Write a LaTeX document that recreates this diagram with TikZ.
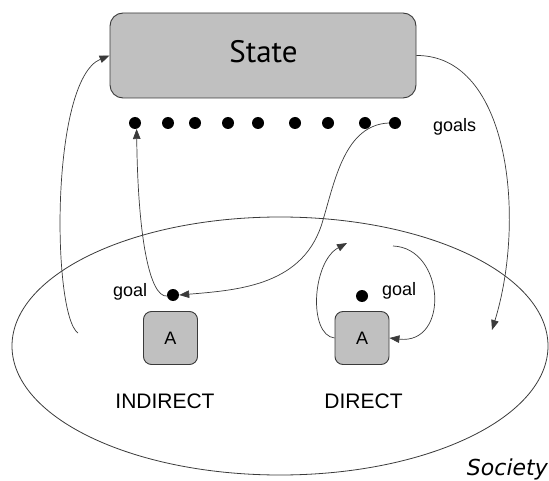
\documentclass[tikz,border=0pt]{standalone}
\usepackage{fontspec}
\setmainfont{Liberation Sans}
\newfontfamily\statefont{PT Sans}
\newfontfamily\handfont{DejaVu Sans}
\usetikzlibrary{arrows.meta}
\definecolor{boxgray}{HTML}{C0C0C0}
\definecolor{linegray}{HTML}{3A3A3A}
\tikzset{
  statebox/.style={draw=linegray, line width=0.9pt, fill=boxgray, rounded corners=13pt,
    minimum width=306pt, minimum height=85pt, inner sep=0pt},
  agentbox/.style={draw=linegray, line width=0.9pt, fill=boxgray, rounded corners=8pt,
    minimum width=54pt, minimum height=53pt, inner sep=0pt, font=\fontsize{18}{20}\selectfont},
  dot/.style={circle, fill=black, inner sep=0pt, minimum size=12pt},
  lbl/.style={inner sep=0pt, font=\fontsize{18}{20}\selectfont},
  biglbl/.style={inner sep=0pt, font=\fontsize{21}{24}\selectfont},
  conn/.style={draw=linegray, line width=0.7pt, -{Triangle[length=10pt,width=7.5pt]}},
}
\begin{document}
\begin{tikzpicture}[x=1pt, y=-1pt]
\useasboundingbox (0,0) rectangle (549,481);

% society
\draw[linegray, line width=0.8pt] (280,346) ellipse [x radius=268, y radius=129];

% shared state and its goals
\node[statebox] (st) at (263,55.5) {};
\node[inner sep=0pt, font=\statefont\fontsize{31}{34}\selectfont] (stl) at (263.5,51.5) {State};
\foreach \x [count=\i] in {135,168,195,228,258,295,328,365,395}
  \node[dot] (g\i) at (\x,123) {};
\node[lbl, anchor=base west] (gl) at (433,132) {goals};

% agents
\node[agentbox] (al) at (170.5,338) {A};
\node[agentbox] (ar) at (362,338) {A};
\node[dot] (ld) at (173,295) {};
\node[dot] (rd) at (362,296) {};
\node[lbl, anchor=base west] (lgl) at (113,296) {goal};
\node[lbl, anchor=base west] (rgl) at (382,295) {goal};
\node[biglbl, anchor=base] (ind) at (165,408) {INDIRECT};
\node[biglbl, anchor=base] (dir) at (363.5,408) {DIRECT};
\node[inner sep=0pt, anchor=base east, font=\handfont\itshape\fontsize{22}{24}\selectfont] (soc) at (548,475) {Society};

% free ends of the open connectors
\coordinate (sa) at (78,333);
\coordinate (sb) at (492,330);
\coordinate (la) at (347,243);
\coordinate (ra) at (393,246);

% connectors
\draw[conn] (sa) .. controls (52,315) and (50,80) .. (st.west);
\draw[conn] (st.east) .. controls (510,55) and (526,220) .. (sb);
\draw[conn] (ld.190) .. controls (150,297) and (138,240) .. (g1.-75);
\draw[conn] (g9.west) .. controls (345,125) and (335,180) .. (323,220)
  .. controls (305,285) and (240,290) .. (ld.east);
\draw[conn] (ar.west) .. controls (308,335) and (312,262) .. (la);
\draw[conn] (ra) .. controls (445,248) and (450,345) .. (ar.east);
\end{tikzpicture}
\end{document}
